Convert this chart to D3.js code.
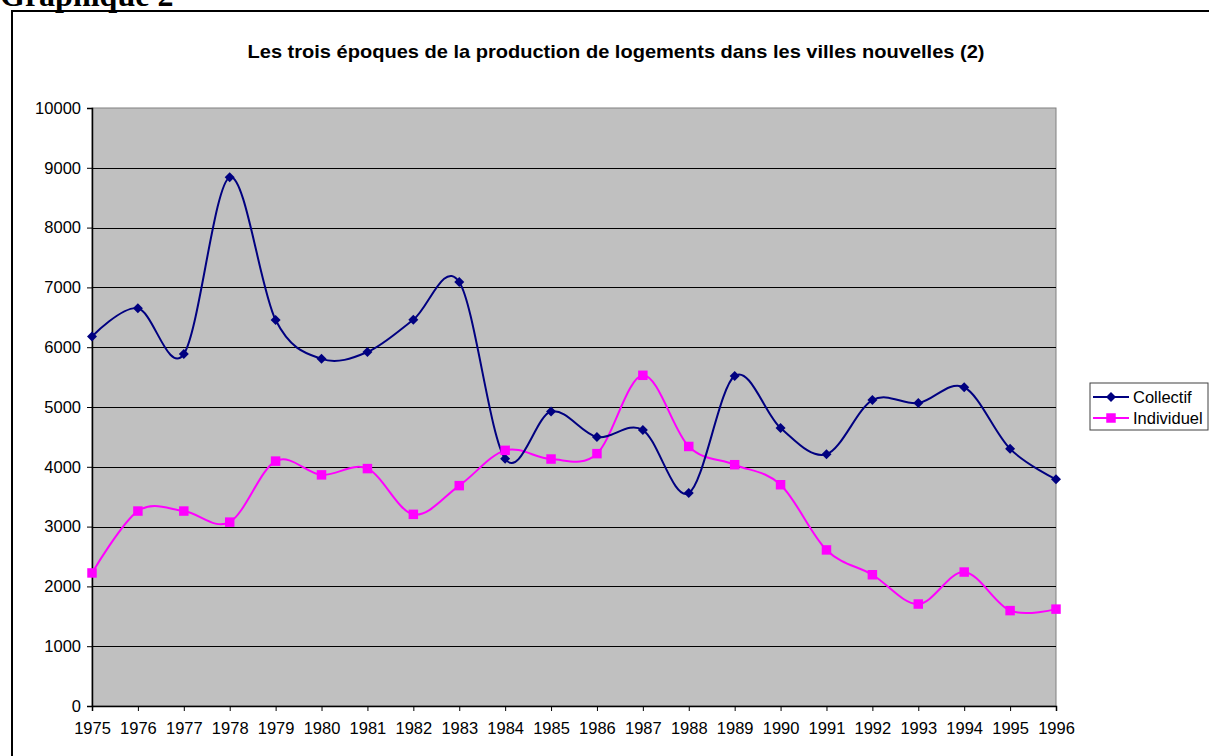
<!DOCTYPE html>
<html>
<head>
<meta charset="utf-8">
<script src="https://cdn.jsdelivr.net/npm/d3@7"></script>
<style>
  body { margin: 0; background: #fff; }
  text { font-family: "Liberation Sans", Arial, sans-serif; }
</style>
</head>
<body>
<div id="chart"></div>
<script>
// data
const years = ["1975","1976","1977","1978","1979","1980","1981","1982","1983","1984","1985",
  "1986","1987","1988","1989","1990","1991","1992","1993","1994","1995","1996"];
const collectif = [6180, 6650, 5885, 8840, 6455, 5805, 5920, 6460, 7090, 4135, 4925,
  4500, 4615, 3560, 5520, 4650, 4210, 5115, 5065, 5330, 4300, 3790];
const individuel = [2225, 3260, 3260, 3075, 4095, 3865, 3970, 3205, 3685, 4275, 4130,
  4220, 5530, 4340, 4035, 3700, 2610, 2195, 1705, 2240, 1595, 1620];
const yTicks = [0,1000,2000,3000,4000,5000,6000,7000,8000,9000,10000];

const W = 1209, H = 756,
  plot = { left: 92, right: 1056, top: 108, bottom: 706 },
  navy = "#000080",
  magenta = "#FF00FF",
  plotFill = "#C0C0C0",
  labelSize = "16.5px"

const svg = d3.select("#chart").append("svg")
  .attr("width", W).attr("height", H)

// outer frame
svg.append("rect")
  .attr("x", 12).attr("y", 11)
  .attr("width", W + 20).attr("height", H + 20)
  .attr("fill", "#fff").attr("stroke", "#000").attr("stroke-width", 2)

// page heading, cut at the top like the scan
svg.append("text")
  .attr("x", 0).attr("y", 6)
  .style("font-family", "'Liberation Serif', 'Times New Roman', serif")
  .style("font-weight", "bold")
  .style("font-size", "32px")
  .text("Graphique 2")

svg.append("text")
  .attr("x", 616).attr("y", 58)
  .attr("text-anchor", "middle")
  .style("font-weight", "bold")
  .style("font-size", "19px")
  .attr("textLength", 737)
  .attr("lengthAdjust", "spacingAndGlyphs")
  .text("Les trois époques de la production de logements dans les villes nouvelles (2)")

const x = d3.scalePoint().domain(years).range([plot.left, plot.right]).padding(0)
const y = d3.scaleLinear().domain([0, 10000]).range([plot.bottom, plot.top])

svg.append("rect")
  .attr("x", plot.left).attr("y", plot.top)
  .attr("width", plot.right - plot.left).attr("height", plot.bottom - plot.top)
  .attr("fill", plotFill).attr("stroke", "#808080").attr("stroke-width", 1)

// gridlines
svg.append("g").selectAll("line")
  .data(yTicks.filter(d => d > 0 && d < 10000))
  .enter().append("line")
  .attr("x1", plot.left).attr("x2", plot.right)
  .attr("y1", d => Math.round(y(d)) + 0.5).attr("y2", d => Math.round(y(d)) + 0.5)
  .attr("stroke", "#000").attr("stroke-width", 1)

// axes
const yAxis = svg.append("g")
  .attr("transform", "translate(" + plot.left + ",0)")
  .call(d3.axisLeft(y).tickValues(yTicks).tickSize(5).tickPadding(6).tickFormat(d3.format("d")))
const xAxis = svg.append("g")
  .attr("transform", "translate(0," + plot.bottom + ")")
  .call(d3.axisBottom(x).tickSize(5).tickPadding(11))

;[yAxis, xAxis].forEach(a => {
  a.select(".domain").attr("stroke", "#000").attr("stroke-width", 1.5)
  a.selectAll(".tick line").attr("stroke", "#000")
  a.selectAll("text").style("font-family", "'Liberation Sans', Arial, sans-serif")
    .style("font-size", labelSize).attr("fill", "#000")
})

// series
const line = d3.line()
  .x((d, i) => x(years[i]))
  .y(d => y(d))
  .curve(d3.curveCardinal.tension(0))

const diamond = d3.symbol().type(d3.symbolSquare).size(50)
const square = d3.symbol().type(d3.symbolSquare).size(90)

svg.append("path").datum(individuel)
  .attr("d", line).attr("fill", "none").attr("stroke", magenta).attr("stroke-width", 2)
svg.append("path").datum(collectif)
  .attr("d", line).attr("fill", "none").attr("stroke", navy).attr("stroke-width", 2)

svg.append("g").selectAll("path").data(collectif).enter().append("path")
  .attr("d", diamond)
  .attr("transform", (d, i) => "translate(" + x(years[i]) + "," + y(d) + ") rotate(45)")
  .attr("fill", navy)
svg.append("g").selectAll("path").data(individuel).enter().append("path")
  .attr("d", square)
  .attr("transform", (d, i) => "translate(" + x(years[i]) + "," + y(d) + ")")
  .attr("fill", magenta)

// legend
const lg = svg.append("g").attr("transform", "translate(1090,383)")
lg.append("rect").attr("width", 118).attr("height", 47)
  .attr("fill", "#fff").attr("stroke", "#404040").attr("stroke-width", 1)
const items = [
  { name: "Collectif", color: navy, sym: diamond, rot: 45 },
  { name: "Individuel", color: magenta, sym: square, rot: 0 }
]
items.forEach((it, i) => {
  const cy = 14 + i * 21
  lg.append("line").attr("x1", 3).attr("x2", 39).attr("y1", cy).attr("y2", cy)
    .attr("stroke", it.color).attr("stroke-width", 2)
  lg.append("path").attr("d", it.sym)
    .attr("transform", "translate(21," + cy + ") rotate(" + it.rot + ")")
    .attr("fill", it.color)
  lg.append("text").attr("x", 43).attr("y", cy + 6)
    .style("font-size", labelSize).text(it.name)
})
</script>
</body>
</html>
